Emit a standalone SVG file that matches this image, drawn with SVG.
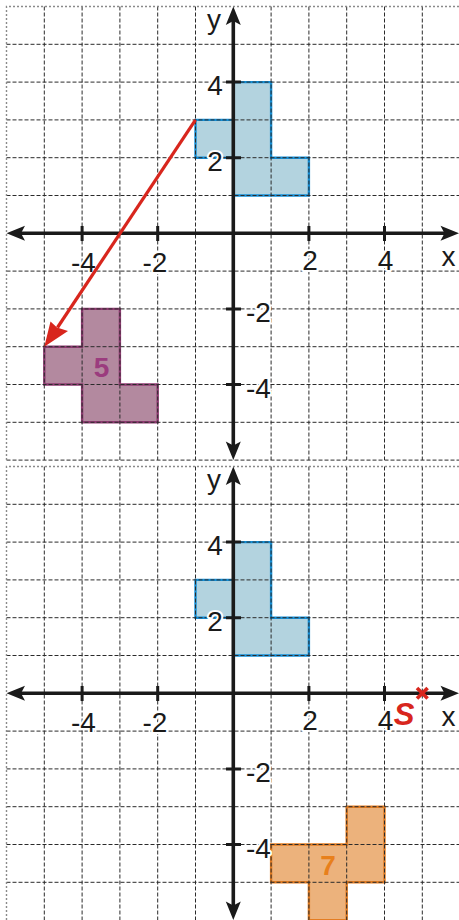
<svg xmlns="http://www.w3.org/2000/svg" width="459" height="920" viewBox="0 0 459 920">
<style>
.bg{fill:#fff}
.grid{stroke:#2b2b2b;stroke-width:1;stroke-dasharray:4 2;fill:none}
.border{stroke:#8a8a8a;stroke-width:1.4;stroke-dasharray:2 2;fill:none}
.axis{stroke:#1a1a1a;stroke-width:3.6;fill:none}
.tick{stroke:#1a1a1a;stroke-width:3;fill:none}
.ah{fill:#1a1a1a}
.lbl{font-family:"Liberation Sans",Arial,sans-serif;font-size:28px;fill:#1a1a1a;stroke:#fff;stroke-width:4;paint-order:stroke;stroke-linejoin:round}
.blue{fill:#b3d3df;stroke:#1590d8;stroke-width:2.4}
.purple{fill:#b3899f;stroke:#8f3b72;stroke-width:2.4}
.orange{fill:#ecb27c;stroke:#e47d22;stroke-width:2.4}
.red{stroke:#d8261d;fill:none}
</style>
<rect class="bg" x="0" y="0" width="459" height="920"/>

<!-- shapes -->
<g id="shape-blue-top">
<path class="blue" d="M195.5,119.9 L233.3,119.9 L233.3,82.1 L271.1,82.1 L271.1,157.7 L308.9,157.7 L308.9,195.5 L233.3,195.5 L233.3,157.7 L195.5,157.7 Z"/>
</g>
<g id="shape-purple">
<path class="purple" d="M44.3,346.7 L82.1,346.7 L82.1,308.9 L119.9,308.9 L119.9,384.5 L157.7,384.5 L157.7,422.3 L82.1,422.3 L82.1,384.5 L44.3,384.5 Z"/>
</g>
<g id="shape-blue-bottom">
<path class="blue" d="M195.5,579.9 L233.3,579.9 L233.3,542.1 L271.1,542.1 L271.1,617.7 L308.9,617.7 L308.9,655.5 L233.3,655.5 L233.3,617.7 L195.5,617.7 Z"/>
</g>
<g id="shape-orange">
<path class="orange" d="M271.1,844.5 L346.7,844.5 L346.7,806.7 L384.5,806.7 L384.5,882.3 L346.7,882.3 L346.7,920.1 L308.9,920.1 L308.9,882.3 L271.1,882.3 Z"/>
</g>

<!-- grids -->
<g id="grid-top">
<path class="grid" d="M44.3,6.5V460 M82.1,6.5V460 M119.9,6.5V460 M157.7,6.5V460 M195.5,6.5V460 M271.1,6.5V460 M308.9,6.5V460 M346.7,6.5V460 M384.5,6.5V460 M422.3,6.5V460
M6.5,44.3H459 M6.5,82.1H459 M6.5,119.9H459 M6.5,157.7H459 M6.5,195.5H459 M6.5,271.1H459 M6.5,308.9H459 M6.5,346.7H459 M6.5,384.5H459 M6.5,422.3H459 M6.5,460.1H459"/>
<path class="border" d="M6.5,460V6.5H459"/>
</g>
<g id="grid-bottom">
<path class="grid" d="M44.3,466.5V920 M82.1,466.5V920 M119.9,466.5V920 M157.7,466.5V920 M195.5,466.5V920 M271.1,466.5V920 M308.9,466.5V920 M346.7,466.5V920 M384.5,466.5V920 M422.3,466.5V920
M6.5,504.3H459 M6.5,542.1H459 M6.5,579.9H459 M6.5,617.7H459 M6.5,655.5H459 M6.5,731.1H459 M6.5,768.9H459 M6.5,806.7H459 M6.5,844.5H459 M6.5,882.3H459"/>
<path class="border" d="M6.5,920V466.5H459"/>
</g>

<!-- axes top -->
<g id="axes-top">
<path class="axis" d="M20,233.3H446 M233.3,20V446"/>
<path class="ah" d="M6.5,233.3 L25,225.8 L21,233.3 L25,240.8 Z"/>
<path class="ah" d="M459,233.3 L440.5,225.8 L444.5,233.3 L440.5,240.8 Z"/>
<path class="ah" d="M233.3,6.5 L225.8,25 L233.3,21 L240.8,25 Z"/>
<path class="ah" d="M233.3,460 L225.8,441.5 L233.3,445.5 L240.8,441.5 Z"/>
<path class="tick" d="M82.1,226V241 M157.7,226V241 M308.9,226V241 M384.5,226V241 M226,82.1H241 M226,157.7H241 M226,308.9H241 M226,384.5H241"/>
</g>
<!-- axes bottom -->
<g id="axes-bottom">
<path class="axis" d="M20,693.3H446 M233.3,480V906"/>
<path class="ah" d="M6.5,693.3 L25,685.8 L21,693.3 L25,700.8 Z"/>
<path class="ah" d="M459,693.3 L440.5,685.8 L444.5,693.3 L440.5,700.8 Z"/>
<path class="ah" d="M233.3,466.5 L225.8,485 L233.3,481 L240.8,485 Z"/>
<path class="ah" d="M233.3,920 L225.8,901.5 L233.3,905.5 L240.8,901.5 Z"/>
<path class="tick" d="M82.1,686V701 M157.7,686V701 M308.9,686V701 M384.5,686V701 M226,542.1H241 M226,617.7H241 M226,768.9H241 M226,844.5H241"/>
</g>

<!-- labels top -->
<g id="labels-top">
<text class="lbl" x="214" y="28.5" text-anchor="middle">y</text>
<text class="lbl" x="215" y="95" text-anchor="middle">4</text>
<text class="lbl" x="215" y="170.5" text-anchor="middle">2</text>
<text class="lbl" x="83.5" y="272" text-anchor="middle">-4</text>
<text class="lbl" x="155" y="272" text-anchor="middle">-2</text>
<text class="lbl" x="310" y="270" text-anchor="middle">2</text>
<text class="lbl" x="385.5" y="270" text-anchor="middle">4</text>
<text class="lbl" x="448.5" y="266" text-anchor="middle">x</text>
<text class="lbl" x="246" y="322">-2</text>
<text class="lbl" x="246" y="398">-4</text>
</g>
<!-- labels bottom -->
<g id="labels-bottom">
<text class="lbl" x="214" y="488.5" text-anchor="middle">y</text>
<text class="lbl" x="215" y="555" text-anchor="middle">4</text>
<text class="lbl" x="215" y="630.5" text-anchor="middle">2</text>
<text class="lbl" x="83.5" y="732" text-anchor="middle">-4</text>
<text class="lbl" x="155" y="732" text-anchor="middle">-2</text>
<text class="lbl" x="310" y="730" text-anchor="middle">2</text>
<text class="lbl" x="385.5" y="730" text-anchor="middle">4</text>
<text class="lbl" x="448.5" y="726" text-anchor="middle">x</text>
<text class="lbl" x="246" y="782">-2</text>
<text class="lbl" x="246" y="858">-4</text>
</g>

<g id="shape-labels">
<text x="101.5" y="377" text-anchor="middle" font-family="Liberation Sans, Arial, sans-serif" font-size="28" font-weight="bold" fill="#9b3c7e">5</text>
<text x="328" y="875" text-anchor="middle" font-family="Liberation Sans, Arial, sans-serif" font-size="28" font-weight="bold" fill="#e8801c">7</text>
</g>

<!-- connectors -->
<g id="connectors">
<path class="red" stroke-width="3.2" d="M195.5,119.9 L57.5,327.5"/>
<path fill="#d8261d" d="M44.3,346.7 L50.5,321.5 L57,327.5 L68,331 Z"/>
</g>

<g id="point-S">
<path class="red" stroke-width="3.6" d="M417,688 L427.6,698.6 M427.6,688 L417,698.6"/>
<text x="404" y="725" text-anchor="middle" font-family="Liberation Sans, Arial, sans-serif" font-size="31" font-weight="bold" font-style="italic" fill="#d8261d">S</text>
</g>
</svg>
